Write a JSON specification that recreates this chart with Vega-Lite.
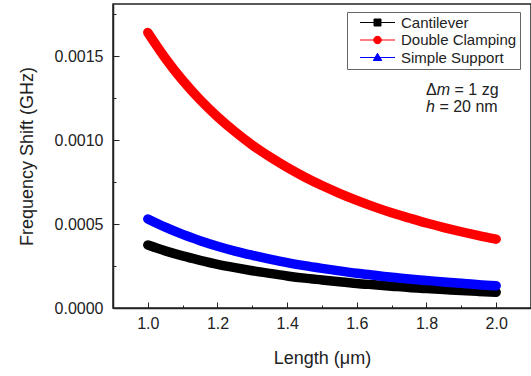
{
  "$schema": "https://vega.github.io/schema/vega-lite/v6.json",
  "width": 418,
  "height": 304,
  "autosize": {"type": "none"},
  "padding": {"left": 113, "top": 4, "right": 0, "bottom": 68},
  "background": "white",
  "config": {
    "font": "Liberation Sans",
    "view": {"stroke": "#222", "strokeWidth": 1.5},
    "axis": {
      "grid": false,
      "domainColor": "#222",
      "domainWidth": 1.5,
      "tickColor": "#222",
      "tickWidth": 1,
      "labelColor": "#222",
      "titleColor": "#222",
      "labelFontSize": 16,
      "titleFontSize": 18,
      "titleFontWeight": "normal",
      "labelOverlap": false,
      "labelFlush": false
    }
  },
  "datasets": {
    "curves": [
      {"series": "Cantilever", "length": 1.00, "shift": 0.000375},
      {"series": "Cantilever", "length": 1.05, "shift": 0.000340},
      {"series": "Cantilever", "length": 1.10, "shift": 0.000310},
      {"series": "Cantilever", "length": 1.15, "shift": 0.000284},
      {"series": "Cantilever", "length": 1.20, "shift": 0.000260},
      {"series": "Cantilever", "length": 1.25, "shift": 0.000240},
      {"series": "Cantilever", "length": 1.30, "shift": 0.000222},
      {"series": "Cantilever", "length": 1.35, "shift": 0.000206},
      {"series": "Cantilever", "length": 1.40, "shift": 0.000191},
      {"series": "Cantilever", "length": 1.45, "shift": 0.000178},
      {"series": "Cantilever", "length": 1.50, "shift": 0.000167},
      {"series": "Cantilever", "length": 1.55, "shift": 0.000156},
      {"series": "Cantilever", "length": 1.60, "shift": 0.000146},
      {"series": "Cantilever", "length": 1.65, "shift": 0.000138},
      {"series": "Cantilever", "length": 1.70, "shift": 0.000130},
      {"series": "Cantilever", "length": 1.75, "shift": 0.000122},
      {"series": "Cantilever", "length": 1.80, "shift": 0.000116},
      {"series": "Cantilever", "length": 1.85, "shift": 0.000110},
      {"series": "Cantilever", "length": 1.90, "shift": 0.000104},
      {"series": "Cantilever", "length": 1.95, "shift": 0.0000986},
      {"series": "Cantilever", "length": 2.00, "shift": 0.0000938},
      {"series": "Double Clamping", "length": 1.00, "shift": 0.001640},
      {"series": "Double Clamping", "length": 1.05, "shift": 0.001488},
      {"series": "Double Clamping", "length": 1.10, "shift": 0.001355},
      {"series": "Double Clamping", "length": 1.15, "shift": 0.001240},
      {"series": "Double Clamping", "length": 1.20, "shift": 0.001139},
      {"series": "Double Clamping", "length": 1.25, "shift": 0.001050},
      {"series": "Double Clamping", "length": 1.30, "shift": 0.000970},
      {"series": "Double Clamping", "length": 1.35, "shift": 0.000900},
      {"series": "Double Clamping", "length": 1.40, "shift": 0.000837},
      {"series": "Double Clamping", "length": 1.45, "shift": 0.000780},
      {"series": "Double Clamping", "length": 1.50, "shift": 0.000729},
      {"series": "Double Clamping", "length": 1.55, "shift": 0.000683},
      {"series": "Double Clamping", "length": 1.60, "shift": 0.000641},
      {"series": "Double Clamping", "length": 1.65, "shift": 0.000602},
      {"series": "Double Clamping", "length": 1.70, "shift": 0.000567},
      {"series": "Double Clamping", "length": 1.75, "shift": 0.000536},
      {"series": "Double Clamping", "length": 1.80, "shift": 0.000506},
      {"series": "Double Clamping", "length": 1.85, "shift": 0.000479},
      {"series": "Double Clamping", "length": 1.90, "shift": 0.000454},
      {"series": "Double Clamping", "length": 1.95, "shift": 0.000431},
      {"series": "Double Clamping", "length": 2.00, "shift": 0.000410},
      {"series": "Simple Support", "length": 1.00, "shift": 0.000530},
      {"series": "Simple Support", "length": 1.05, "shift": 0.000481},
      {"series": "Simple Support", "length": 1.10, "shift": 0.000438},
      {"series": "Simple Support", "length": 1.15, "shift": 0.000401},
      {"series": "Simple Support", "length": 1.20, "shift": 0.000368},
      {"series": "Simple Support", "length": 1.25, "shift": 0.000339},
      {"series": "Simple Support", "length": 1.30, "shift": 0.000314},
      {"series": "Simple Support", "length": 1.35, "shift": 0.000291},
      {"series": "Simple Support", "length": 1.40, "shift": 0.000270},
      {"series": "Simple Support", "length": 1.45, "shift": 0.000252},
      {"series": "Simple Support", "length": 1.50, "shift": 0.000236},
      {"series": "Simple Support", "length": 1.55, "shift": 0.000221},
      {"series": "Simple Support", "length": 1.60, "shift": 0.000207},
      {"series": "Simple Support", "length": 1.65, "shift": 0.000195},
      {"series": "Simple Support", "length": 1.70, "shift": 0.000183},
      {"series": "Simple Support", "length": 1.75, "shift": 0.000173},
      {"series": "Simple Support", "length": 1.80, "shift": 0.000164},
      {"series": "Simple Support", "length": 1.85, "shift": 0.000155},
      {"series": "Simple Support", "length": 1.90, "shift": 0.000147},
      {"series": "Simple Support", "length": 1.95, "shift": 0.000139},
      {"series": "Simple Support", "length": 2.00, "shift": 0.000133}
    ],
    "annotNormal": [
      {"text": "Δ", "length": 1.7989, "shift": 0.0012679},
      {"text": "= 1 zg", "length": 1.8805, "shift": 0.0012679},
      {"text": "= 20 nm", "length": 1.8371, "shift": 0.0011667}
    ],
    "annotItalic": [
      {"text": "m", "length": 1.8296, "shift": 0.0012679},
      {"text": "h", "length": 1.7989, "shift": 0.0011667}
    ]
  },
  "layer": [
    {
      "data": {"name": "curves"},
      "mark": {"type": "line", "strokeWidth": 9.5, "strokeCap": "round", "interpolate": "monotone", "clip": true},
      "encoding": {
        "x": {
          "field": "length",
          "type": "quantitative",
          "scale": {"domain": [0.9, 2.1], "nice": false, "zero": false},
          "axis": {
            "title": "Length (μm)",
            "values": [1.0, 1.1, 1.2, 1.3, 1.4, 1.5, 1.6, 1.7, 1.8, 1.9, 2.0],
            "labelExpr": "round(datum.value*10)%2==0 ? format(datum.value,'.1f') : ''",
            "tickSize": {"condition": {"test": "round(datum.value*10)%2==1", "value": -3}, "value": -6},
            "labelPadding": 13,
            "titlePadding": 15
          }
        },
        "y": {
          "field": "shift",
          "type": "quantitative",
          "scale": {"domain": [0, 0.00181], "nice": false},
          "axis": {
            "title": "Frequency Shift (GHz)",
            "values": [0, 0.00025, 0.0005, 0.00075, 0.001, 0.00125, 0.0015, 0.00175],
            "labelExpr": "round(datum.value*4000)%2==0 ? format(datum.value,'.4f') : ''",
            "tickSize": {"condition": {"test": "round(datum.value*4000)%2==1", "value": -3}, "value": -6},
            "labelPadding": 16,
            "titlePadding": 18
          }
        },
        "color": {
          "field": "series",
          "type": "nominal",
          "scale": {"domain": ["Cantilever", "Double Clamping", "Simple Support"], "range": ["#000000", "#ff0000", "#0000ff"]},
          "legend": {
            "title": null,
            "orient": "none",
            "legendX": 234,
            "legendY": 8,
            "strokeColor": "#666",
            "padding": 3,
            "rowPadding": 1.5,
            "labelFontSize": 15,
            "labelColor": "#222",
            "symbolSize": 100,
            "symbolStrokeWidth": 1,
            "symbolOffset": 20,
            "labelOffset": 16,
            "encode": {
              "symbols": {
                "update": {
                  "shape": {"signal": "datum.value==='Cantilever' ? 'M-3.5,0H3.5M-0.7,-0.7H0.7V0.7H-0.7Z' : datum.value==='Double Clamping' ? 'M-3.5,0H3.5M-0.75,0A0.75,0.75,0,1,0,0.75,0A0.75,0.75,0,1,0,-0.75,0Z' : 'M-3.5,0H3.5M0,-0.85L0.85,0.6H-0.85Z'"},
                  "fill": {"scale": "color", "field": "value"},
                  "stroke": {"scale": "color", "field": "value"},
                  "strokeWidth": {"value": 1}
                }
              }
            }
          }
        }
      }
    },
    {
      "data": {"name": "annotNormal"},
      "mark": {"type": "text", "align": "left", "baseline": "alphabetic", "fontSize": 16, "color": "#222"},
      "encoding": {
        "x": {"field": "length", "type": "quantitative"},
        "y": {"field": "shift", "type": "quantitative"},
        "text": {"field": "text"}
      }
    },
    {
      "data": {"name": "annotItalic"},
      "mark": {"type": "text", "align": "left", "baseline": "alphabetic", "fontSize": 16, "fontStyle": "italic", "color": "#222"},
      "encoding": {
        "x": {"field": "length", "type": "quantitative"},
        "y": {"field": "shift", "type": "quantitative"},
        "text": {"field": "text"}
      }
    }
  ]
}
